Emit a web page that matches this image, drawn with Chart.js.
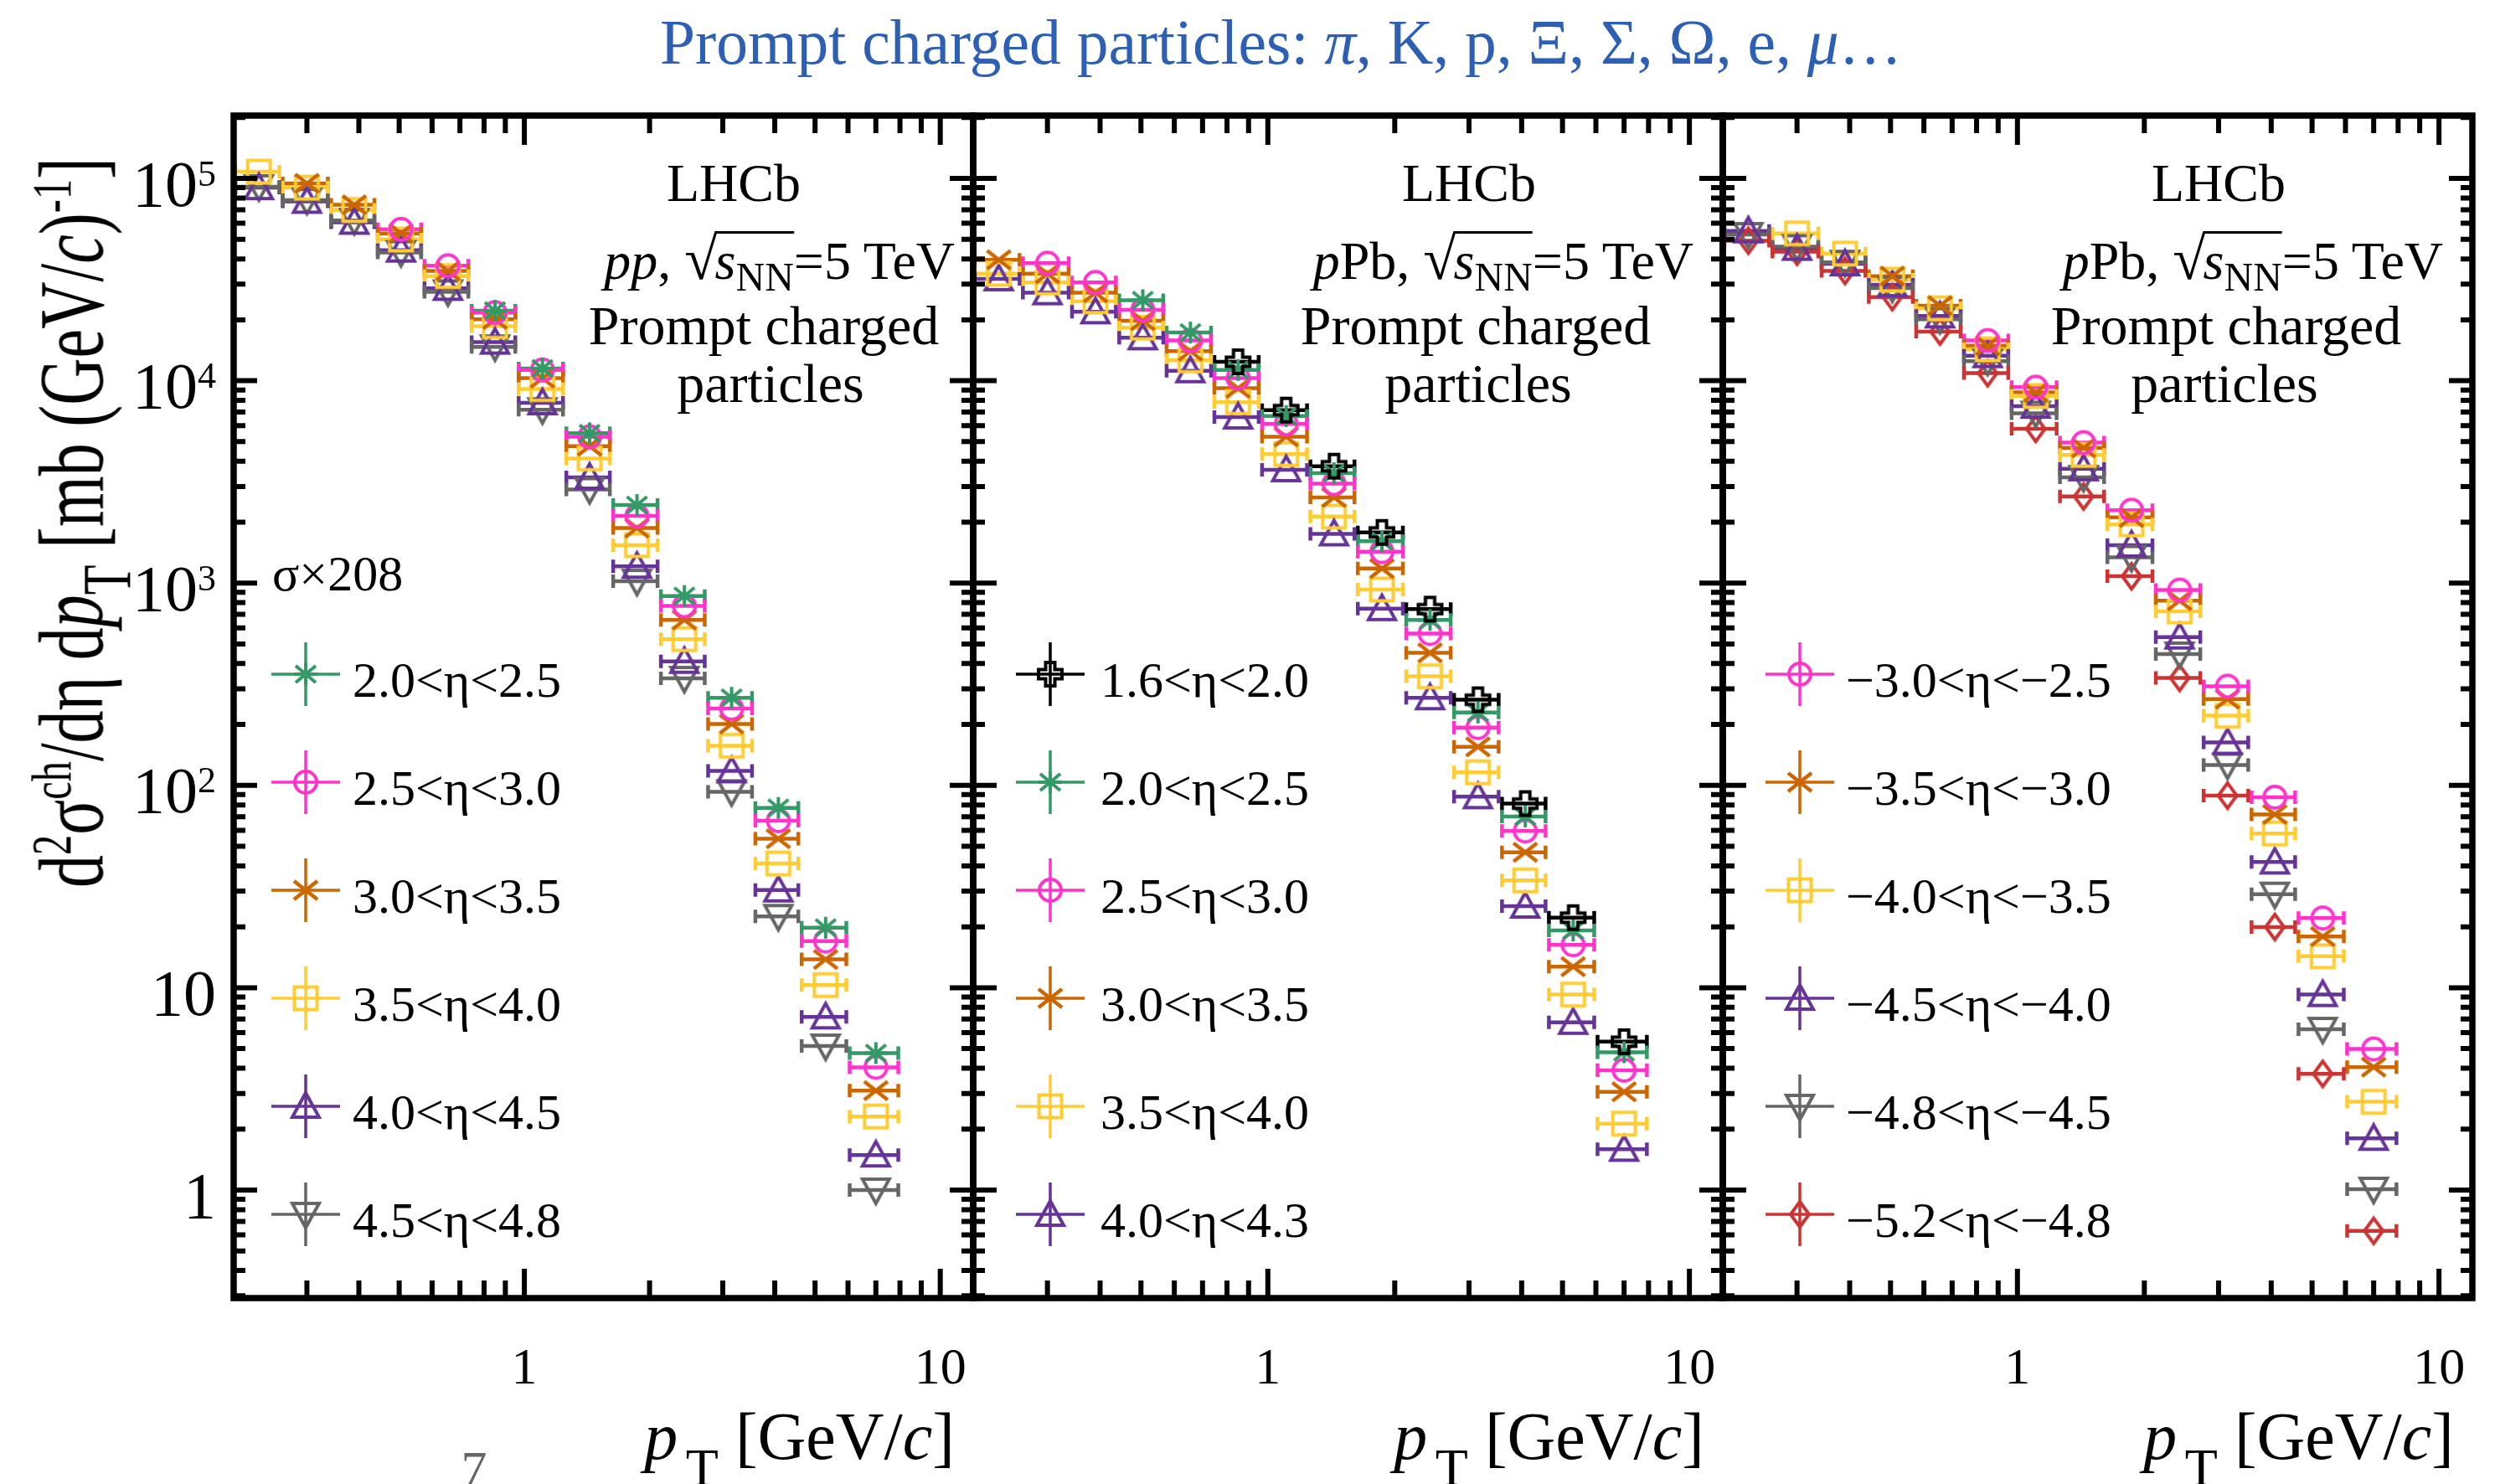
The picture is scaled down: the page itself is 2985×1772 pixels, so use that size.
<!DOCTYPE html>
<html lang="en">
<head>
<meta charset="UTF-8">
<script src="https://cdn.jsdelivr.net/npm/chart.js@4.4.0/dist/chart.umd.min.js"></script>
<style>
  body { margin: 0; background: #fff; }
  #page { position: relative; width: 2985px; height: 1772px; overflow: hidden;
          font-family: 'Liberation Serif', 'Times New Roman', serif; color: #000; }
  .t { position: absolute; white-space: nowrap; line-height: 1; }
  sub, sup { line-height: 0; }
  canvas { position: absolute; }
  .rad { display: inline-block; line-height: 1; border-top: 3px solid #000; padding-top: 1px; margin-left: -3px; }
</style>
</head>
<body>
<div id="page"></div>
<script>
// pT bins [GeV/c]
var ptBinLow  = [0.20, 0.26, 0.34, 0.44, 0.57, 0.74, 0.96, 1.25, 1.62, 2.11, 2.74, 3.56, 4.60, 6.00];
var ptBinHigh = [0.26, 0.34, 0.44, 0.57, 0.74, 0.96, 1.25, 1.62, 2.11, 2.74, 3.56, 4.60, 6.00, 8.00];

// pp (sigma x 208)
var ppLabels = ['2.0<η<2.5', '2.5<η<3.0', '3.0<η<3.5', '3.5<η<4.0', '4.0<η<4.5', '4.5<η<4.8'];
var pp_2p0_2p5 = [null, null, null, null, null, 22200, 11500, 5500, 2430, 863, 271, 77.4, 19.8, 4.75];
var pp_2p5_3p0 = [null, null, null, 56000, 37000, 21700, 11300, 5280, 2150, 771, 240, 66.9, 17.0, 4.04];
var pp_3p0_3p5 = [null, 94500, 74000, 53500, 34900, 20100, 10300, 4750, 1870, 657, 201, 54.5, 13.8, 3.10];
var pp_3p5_4p0 = [108000, 90000, 69800, 49900, 32900, 18600, 9100, 4130, 1540, 528, 157, 41.1, 10.3, 2.31];
var pp_4p0_4p5 = [90000, 77000, 60700, 44200, 28600, 15500, 7780, 3330, 1210, 410, 118, 30.4, 7.17, 1.49];
var pp_4p5_4p8 = [91000, 78000, 62000, 43000, 27500, 14700, 7190, 2900, 1020, 338, 93, 22.5, 5.15, 1.00];

// pPb forward
var fwLabels = ['1.6<η<2.0', '2.0<η<2.5', '2.5<η<3.0', '3.0<η<3.5', '3.5<η<4.0', '4.0<η<4.3'];
var fw_1p6_2p0 = [null, null, null, null, null, 12400, 7160, 3780, 1780, 743, 265, 81.3, 22.2, 5.41];
var fw_2p0_2p5 = [null, null, null, 25000, 17300, 11300, 6690, 3490, 1610, 657, 229, 70.2, 19.2, 4.80];
var fw_2p5_3p0 = [null, 38100, 30600, 22400, 15800, 10300, 6110, 3100, 1430, 563, 193, 59.5, 16.3, 3.91];
var fw_3p0_3p5 = [39600, 33800, 27200, 19800, 14000, 9180, 5280, 2650, 1180, 452, 155, 46.7, 12.7, 3.06];
var fw_3p5_4p0 = [33800, 30600, 24700, 18300, 12600, 7840, 4340, 2130, 929, 346, 116, 33.9, 9.25, 2.13];
var fw_4p0_4p3 = [31900, 27200, 21900, 16300, 11200, 6620, 3630, 1750, 747, 271, 87.9, 25.3, 6.74, 1.59];

// pPb backward
var bwLabels = ['−3.0<η<−2.5', '−3.5<η<−3.0', '−4.0<η<−3.5', '−4.5<η<−4.0', '−4.8<η<−4.5', '−5.2<η<−4.8'];
var bw_m3p0_m2p5 = [null, null, null, null, null, 15800, 9290, 4940, 2290, 923, 309, 87.4, 22.1, 4.98];
var bw_m3p5_m3p0 = [null, null, null, 32900, 23500, 14900, 8750, 4660, 2110, 818, 267, 71.9, 17.9, 4.05];
var bw_m4p0_m3p5 = [null, 53500, 42500, 31600, 22800, 14300, 8410, 4300, 1950, 724, 221, 57.8, 14.3, 2.73];
var bw_m4p5_m4p0 = [55000, 45100, 37800, 29800, 20900, 13300, 7480, 3670, 1540, 541, 163, 41.8, 9.25, 1.80];
var bw_m4p8_m4p5 = [52800, 46000, 38500, 28700, 20100, 12500, 6910, 3330, 1340, 446, 126, 29.0, 6.23, 1.01];
var bw_m5p2_m4p8 = [49200, 43400, 34900, 25900, 17500, 10900, 5780, 2680, 1080, 340, 89, 19.95, 3.75, 0.629];

// axis ticks
var xTickLabels = [1, 10];
var yTickLabels = [1, 10, 100, 1000, 10000, 100000];

var col = {
  black: '#000000', green: '#339966', pink: '#ff33cc', orange: '#cc6600',
  yellow: '#ffcc33', purple: '#663399', grey: '#666666', red: '#cc3333'
};

var page = document.getElementById('page');
var PAD = 24;
var frameTop = 138, frameBottom = 1550;
var panelLeft = [279, 1162, 2057];
var panelRight = [1162, 2057, 2952];
var legendRowY = [805, 934, 1063, 1192, 1321, 1450];
var legendMarkerX = [365, 1254, 2149];
var legendTextX = [421, 1314, 2204];

// marker as small canvas (used as pointStyle)
function makeMarker(shape, color) {
  var c = document.createElement('canvas');
  c.width = 44; c.height = 44;
  var g = c.getContext('2d');
  g.strokeStyle = color; g.lineWidth = 4; g.lineJoin = 'miter';
  g.translate(22, 22);
  g.beginPath();
  if (shape === 'circle') {
    g.arc(0, 0, 13, 0, 2 * Math.PI);
  } else if (shape === 'square') {
    g.rect(-13.5, -13.5, 27, 27);
  } else if (shape === 'triangle') {
    g.moveTo(0, -16); g.lineTo(16, 13); g.lineTo(-16, 13); g.closePath();
  } else if (shape === 'triangleDown') {
    g.moveTo(0, 16); g.lineTo(16, -13); g.lineTo(-16, -13); g.closePath();
  } else if (shape === 'crossRot') {
    g.lineWidth = 4.5;
    g.moveTo(-14, -11); g.lineTo(14, 11); g.moveTo(14, -11); g.lineTo(-14, 11);
  } else if (shape === 'star') {
    g.moveTo(0, -13); g.lineTo(0, 13); g.moveTo(-14, 0); g.lineTo(14, 0);
    g.moveTo(-12, -10); g.lineTo(12, 10); g.moveTo(12, -10); g.lineTo(-12, 10);
  } else if (shape === 'diamond') {
    g.moveTo(0, -15); g.lineTo(11, 0); g.lineTo(0, 15); g.lineTo(-11, 0); g.closePath();
  } else if (shape === 'openCross') {
    var a = 5.5, b = 14;
    g.moveTo(-a, -b); g.lineTo(a, -b); g.lineTo(a, -a); g.lineTo(b, -a); g.lineTo(b, a);
    g.lineTo(a, a); g.lineTo(a, b); g.lineTo(-a, b); g.lineTo(-a, a); g.lineTo(-b, a);
    g.lineTo(-b, -a); g.lineTo(-a, -a); g.closePath();
  }
  g.stroke();
  return c;
}

var panels = [
  { labels: ppLabels,
    values: [pp_2p0_2p5, pp_2p5_3p0, pp_3p0_3p5, pp_3p5_4p0, pp_4p0_4p5, pp_4p5_4p8],
    colors: [col.green, col.pink, col.orange, col.yellow, col.purple, col.grey],
    shapes: ['star', 'circle', 'crossRot', 'square', 'triangle', 'triangleDown'] },
  { labels: fwLabels,
    values: [fw_1p6_2p0, fw_2p0_2p5, fw_2p5_3p0, fw_3p0_3p5, fw_3p5_4p0, fw_4p0_4p3],
    colors: [col.black, col.green, col.pink, col.orange, col.yellow, col.purple],
    shapes: ['openCross', 'star', 'circle', 'crossRot', 'square', 'triangle'] },
  { labels: bwLabels,
    values: [bw_m3p0_m2p5, bw_m3p5_m3p0, bw_m4p0_m3p5, bw_m4p5_m4p0, bw_m4p8_m4p5, bw_m5p2_m4p8],
    colors: [col.pink, col.orange, col.yellow, col.purple, col.grey, col.red],
    shapes: ['circle', 'crossRot', 'square', 'triangle', 'triangleDown', 'diamond'] }
];

var panelInfo = {};

// minor/major tick values
var xMinor = [], yMinor = [];
for (var m = 2; m <= 9; m++) { xMinor.push(m / 10); xMinor.push(m); }
for (var e = -1; e <= 5; e++) {
  for (var k = 2; k <= 9; k++) yMinor.push(k * Math.pow(10, e));
}

var panelDecor = {
  id: 'panelDecor',
  // horizontal error bars (bin widths)
  beforeDatasetsDraw: function (chart) {
    var ctx = chart.ctx, xs = chart.scales.x, ys = chart.scales.y;
    ctx.save();
    ctx.lineWidth = 4.5;
    chart.data.datasets.forEach(function (ds) {
      ctx.strokeStyle = ds.borderColor;
      ds.data.forEach(function (p) {
        var y = ys.getPixelForValue(p.y);
        var x0 = xs.getPixelForValue(p.xMin), x1 = xs.getPixelForValue(p.xMax);
        ctx.beginPath();
        ctx.moveTo(x0, y); ctx.lineTo(x1, y);
        ctx.moveTo(x0 + 2, y - 8); ctx.lineTo(x0 + 2, y + 8);
        ctx.moveTo(x1 - 2, y - 8); ctx.lineTo(x1 - 2, y + 8);
        ctx.stroke();
      });
    });
    ctx.restore();
  },
  afterDraw: function (chart) {
    var ctx = chart.ctx, a = chart.chartArea, xs = chart.scales.x, ys = chart.scales.y;
    var info = panelInfo[chart.canvas.id];
    ctx.save();
    ctx.strokeStyle = '#000';
    ctx.lineWidth = 6;
    ctx.beginPath();
    function xt(v, len) {
      var px = xs.getPixelForValue(v);
      if (px <= a.left + 2 || px >= a.right - 2) return;
      ctx.moveTo(px, a.bottom); ctx.lineTo(px, a.bottom - len);
      ctx.moveTo(px, a.top); ctx.lineTo(px, a.top + len);
    }
    function yt(v, len) {
      var py = ys.getPixelForValue(v);
      if (py <= a.top + 2 || py >= a.bottom - 2) return;
      ctx.moveTo(a.left, py); ctx.lineTo(a.left + len, py);
      ctx.moveTo(a.right, py); ctx.lineTo(a.right - len, py);
    }
    xMinor.forEach(function (v) { xt(v, 21); });
    xTickLabels.forEach(function (v) { xt(v, 35); });
    yMinor.forEach(function (v) { yt(v, 14); });
    yTickLabels.forEach(function (v) { yt(v, 28); });
    ctx.stroke();
    ctx.lineWidth = 7.5;
    ctx.strokeRect(a.left, a.top, a.right - a.left, a.bottom - a.top);

    // legend symbols
    chart.data.datasets.forEach(function (ds, i) {
      var lx = info.legendX - info.left, ly = legendRowY[i] - info.top;
      ctx.strokeStyle = ds.borderColor;
      ctx.lineWidth = 3.5;
      ctx.beginPath();
      ctx.moveTo(lx - 41, ly); ctx.lineTo(lx + 41, ly);
      ctx.moveTo(lx, ly - 38); ctx.lineTo(lx, ly + 38);
      ctx.stroke();
      ctx.drawImage(ds.pointStyle, lx - 22, ly - 22);
    });
    ctx.restore();
  }
};

function addText(html, x, base, size, align, extra) {
  var d = document.createElement('div');
  d.className = 't';
  d.innerHTML = html;
  d.style.fontSize = size + 'px';
  d.style.left = x + 'px';
  d.style.top = (base - 0.8375 * size) + 'px';
  var tx = align === 'center' ? '-50%' : (align === 'right' ? '-100%' : '0');
  d.style.transform = 'translateX(' + tx + ')';
  if (extra) d.style.cssText += extra;
  page.appendChild(d);
  return d;
}

var charts = [];
panels.forEach(function (p, n) {
  var cv = document.createElement('canvas');
  cv.id = 'panel' + n;
  var left = panelLeft[n] - PAD, top = frameTop - PAD;
  cv.width = panelRight[n] - panelLeft[n] + 2 * PAD;
  cv.height = frameBottom - frameTop + 2 * PAD;
  cv.style.left = left + 'px';
  cv.style.top = top + 'px';
  page.appendChild(cv);
  panelInfo[cv.id] = { left: left, top: top, legendX: legendMarkerX[n] };

  var datasets = p.values.map(function (vals, i) {
    var pts = [];
    vals.forEach(function (v, j) {
      if (v === null) return;
      pts.push({ x: (ptBinLow[j] + ptBinHigh[j]) / 2, y: v, xMin: ptBinLow[j], xMax: ptBinHigh[j] });
    });
    return {
      label: p.labels[i],
      data: pts,
      borderColor: p.colors[i],
      backgroundColor: p.colors[i],
      pointStyle: makeMarker(p.shapes[i], p.colors[i]),
      pointRadius: 14,
      pointHoverRadius: 14
    };
  });

  var chart = new Chart(cv.getContext('2d'), {
    type: 'scatter',
    data: { datasets: datasets },
    options: {
      responsive: false,
      animation: false,
      events: [],
      layout: { padding: PAD },
      plugins: { legend: { display: false }, tooltip: { enabled: false } },
      scales: {
        x: { type: 'logarithmic', min: 0.2, max: 12, display: false },
        y: { type: 'logarithmic', min: 0.2924, max: 204400, display: false }
      }
    },
    plugins: [panelDecor]
  });
  charts.push(chart);

  // x tick labels
  xTickLabels.forEach(function (v) {
    addText(String(v), left + chart.scales.x.getPixelForValue(v), 1652, 62, 'center');
  });
  // x axis title
  addText('<i>p</i><sub style="font-size:0.8em;vertical-align:-0.5em;margin-left:0.15em">T</sub> [GeV/<i>c</i>]',
          panelRight[n] - 22, 1742, 80, 'right');
  // legend texts
  p.labels.forEach(function (lab, i) {
    addText(lab.replace(/</g, '&lt;'), legendTextX[n], legendRowY[i] + 27, 60, 'left');
  });
});

// y tick labels (from first panel's scale)
var yTop = frameTop - PAD;
yTickLabels.forEach(function (v) {
  var py = yTop + charts[0].scales.y.getPixelForValue(v);
  var ex = Math.round(Math.log10(v));
  var html = ex >= 2 ? '10<span style="font-size:44px;vertical-align:24px">' + ex + '</span>' : String(v);
  addText(html, 258, py + 33, 78, 'right');
});

// panel annotations
var ann = [
  { lhcb: 876, sys: '<i>pp</i>', sysRight: 1140, pc: 912, part: 920 },
  { lhcb: 1754, sys: '<i>p</i>Pb', sysRight: 2022, pc: 1762, part: 1765 },
  { lhcb: 2649, sys: '<i>p</i>Pb', sysRight: 2917, pc: 2658, part: 2656 }
];
ann.forEach(function (t) {
  addText('LHCb', t.lhcb, 241, 64, 'center');
  addText(t.sys + ', <span style="font-size:1.12em">√</span><span class="rad"><i>s</i><sub style="font-size:0.75em;vertical-align:-0.3em">NN</sub></span>=5 TeV',
          t.sysRight, 328, 64, 'right');
  addText('Prompt charged', t.pc, 411, 66, 'center');
  addText('particles', t.part, 480, 66, 'center');
});
addText('σ×208', 325, 705, 60, 'left');

// title
addText('Prompt charged particles: <i>π</i>, K, p, Ξ, Σ, Ω, e, <i>μ</i>…', 788, 76, 75.5, 'left', 'color:#2d5fb4;');

// y axis title (glyphs stretched across the text direction, as in the figure)
var yt = document.createElement('div');
yt.className = 't';
yt.innerHTML = 'd<sup style="font-size:0.62em">2</sup>σ<sup style="font-size:0.62em">ch</sup>/dη d<i>p</i><sub style="font-size:0.75em;vertical-align:-0.4em">T</sub> [mb (GeV/<i>c</i>)<sup style="font-size:0.62em">-1</sup>]';
yt.style.fontSize = '78px';
yt.style.left = '86px';
yt.style.top = '624px';
yt.style.transform = 'translate(-50%, -50%) rotate(-90deg) scale(1, 1.4)';
page.appendChild(yt);

// page number
addText('7', 566, 1775, 62, 'center', 'color:#666;');
</script>
</body>
</html>
